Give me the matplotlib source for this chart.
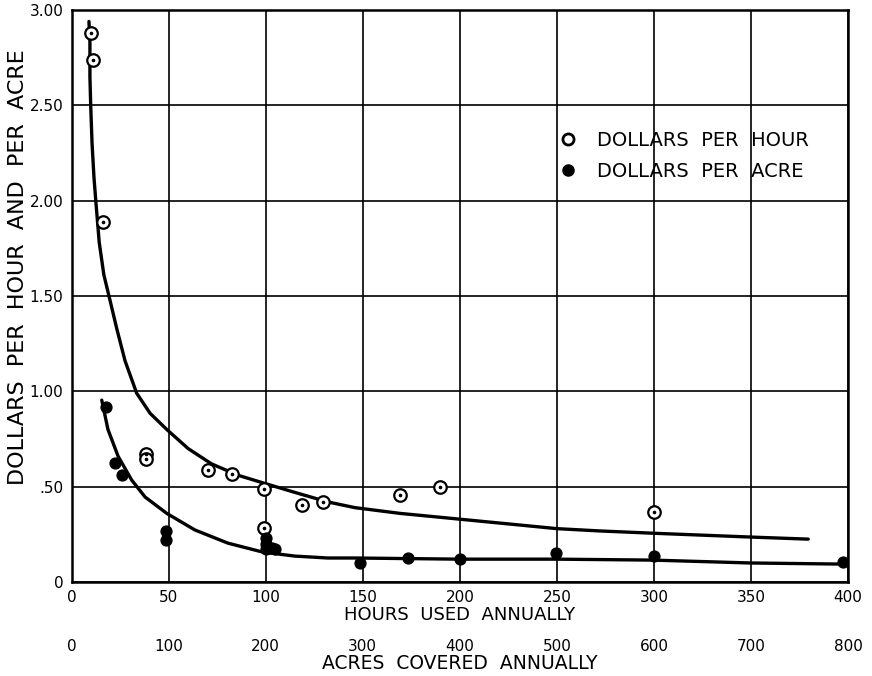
import matplotlib
matplotlib.use("Agg")
import matplotlib.pyplot as plt
from matplotlib.lines import Line2D

# ---- data ----
hours_pts = [9.9, 11.0, 16.2, 38.3, 38.3, 70.3, 82.6, 99.2, 118.7, 129.5, 99.2, 169.2, 189.8, 300.0]
dollars_per_hour = [2.88, 2.74, 1.89, 0.67, 0.645, 0.587, 0.566, 0.488, 0.404, 0.42, 0.283, 0.456, 0.498, 0.367]

acres_pts = [35, 45, 52, 97, 97, 200, 200, 200, 206, 210, 297, 347, 400, 499, 600, 795]
dollars_per_acre = [0.918, 0.624, 0.56, 0.267, 0.22, 0.23, 0.20, 0.175, 0.18, 0.175, 0.10, 0.126, 0.12, 0.152, 0.136, 0.105]

hour_curve_x = [8.9, 9.4, 9.4, 9.8, 10.5, 11.5, 12.5, 14.2, 16.6, 19.7, 23.2, 27.5, 33.5, 40.4,
                49.0, 60.0, 72.0, 85.7, 98.6, 115.0, 132.0, 146.0, 169.2, 199.6, 250.0, 272.0,
                299.6, 349.6, 379.5]
hour_curve_y = [2.94, 2.83, 2.65, 2.50, 2.30, 2.12, 1.99, 1.78, 1.61, 1.48, 1.33, 1.16, 0.99, 0.885,
                0.80, 0.70, 0.62, 0.56, 0.52, 0.47, 0.42, 0.39, 0.36, 0.33, 0.28, 0.268,
                0.256, 0.236, 0.225]

acre_curve_x = [31, 37.4, 47.8, 61.8, 75.6, 98, 127, 161, 197, 230, 264, 292, 399, 500, 599, 699, 795]
acre_curve_y = [0.954, 0.80, 0.66, 0.535, 0.446, 0.36, 0.273, 0.204, 0.157, 0.136, 0.126, 0.126,
                0.12, 0.12, 0.115, 0.10, 0.094]

hour_ticks = [0, 50, 100, 150, 200, 250, 300, 350, 400]
acre_ticks = [0, 100, 200, 300, 400, 500, 600, 700, 800]
y_ticks = [0, 0.5, 1.0, 1.5, 2.0, 2.5, 3.0]
y_tick_labels = ["0", ".50", "1.00", "1.50", "2.00", "2.50", "3.00"]

# ---- figure ----
fig = plt.figure(figsize=(8.72, 6.76), dpi=100)
ax = fig.add_axes([0.0822, 0.139, 0.9725 - 0.0822, 0.9852 - 0.139])

ax.set_xlim(0, 400)
ax.set_ylim(0, 3.0)
ax.set_xticks(hour_ticks)
ax.set_xticklabels([str(t) for t in hour_ticks])
ax.set_yticks(y_ticks)
ax.set_yticklabels(y_tick_labels)
ax.tick_params(axis="both", length=0, labelsize=11, colors="black")
ax.tick_params(axis="x", pad=6)
ax.tick_params(axis="y", pad=6)
ax.grid(True, color="black", linewidth=1.2)
ax.set_axisbelow(True)
for s in ax.spines.values():
    s.set_linewidth(1.8)
    s.set_color("black")

# hours curve
ax.plot(hour_curve_x, hour_curve_y, color="black", linewidth=2.4,
        solid_capstyle="round", solid_joinstyle="round", zorder=3)

# acres data on a twin x axis (0-800)
ax2 = ax.twiny()
ax2.set_xlim(0, 800)
ax2.plot(acre_curve_x, acre_curve_y, color="black", linewidth=2.4,
         solid_capstyle="round", solid_joinstyle="round", zorder=3)
ax2.plot(acres_pts, dollars_per_acre, linestyle="none", marker="o", markersize=7.8,
         markerfacecolor="black", markeredgecolor="black", zorder=4)

# open points with a centre dot
ax.plot(hours_pts, dollars_per_hour, linestyle="none", marker="o", markersize=9,
        markerfacecolor="white", markeredgecolor="black", markeredgewidth=1.6, zorder=5)
ax.plot(hours_pts, dollars_per_hour, linestyle="none", marker="o", markersize=1.6,
        markerfacecolor="black", markeredgecolor="black", zorder=6)

# secondary (acres) axis below
ax2.xaxis.set_ticks_position("bottom")
ax2.xaxis.set_label_position("bottom")
ax2.spines["bottom"].set_position(("outward", 36))
for s in ax2.spines.values():
    s.set_visible(False)
ax2.set_xticks(acre_ticks)
ax2.set_xticklabels([str(t) for t in acre_ticks])
ax2.tick_params(axis="x", length=0, labelsize=11, pad=5, colors="black")

# labels
ax.set_xlabel("HOURS  USED  ANNUALLY", fontsize=13, va="center")
ax.xaxis.set_label_coords(0.5, -0.0577)
ax2.set_xlabel("ACRES  COVERED  ANNUALLY", fontsize=13.5, va="center")
ax2.xaxis.set_label_coords(0.5, -0.143)
ax.set_ylabel("DOLLARS  PER  HOUR  AND  PER  ACRE", fontsize=16, va="center")
ax.yaxis.set_label_coords(-0.069, 0.55)

# legend
handles = [
    Line2D([], [], linestyle="none", marker="o", markersize=8, markerfacecolor="white",
           markeredgecolor="black", markeredgewidth=2),
    Line2D([], [], linestyle="none", marker="o", markersize=8, markerfacecolor="black",
           markeredgecolor="black"),
]
labels = ["DOLLARS  PER  HOUR", "DOLLARS  PER  ACRE"]
leg = ax2.legend(handles, labels, loc="center left", bbox_to_anchor=(0.627, 0.745),
                 frameon=False, fontsize=14, handlelength=1.0, handletextpad=1.0,
                 borderpad=0, borderaxespad=0, labelspacing=0.62)
leg.set_zorder(10)

fig.savefig("out.png", dpi=100, facecolor="white")
